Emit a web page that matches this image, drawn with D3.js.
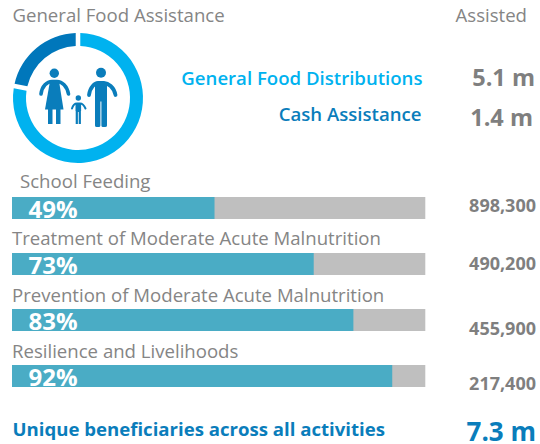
<!DOCTYPE html>
<html><head><meta charset="utf-8">
<script src="https://cdn.jsdelivr.net/npm/d3@7/dist/d3.min.js"></script>
<style>html,body{margin:0;padding:0;background:#fff}svg{display:block}text{font-family:"Open Sans",sans-serif}</style>
</head><body><svg id="c" width="540" height="444"></svg>
<script>
const title = "General Food Assistance";
const assistedLabel = "Assisted";
const donutCategories = ["General Food Distributions", "Cash Assistance"];
const donutValues = [5.1, 1.4];
const donutLabels = ["5.1 m", "1.4 m"];
const donutColors = ["#00b2ef", "#0077bb"];
const activities = ["School Feeding", "Treatment of Moderate Acute Malnutrition", "Prevention of Moderate Acute Malnutrition", "Resilience and Livelihoods"];
const percents = [49, 73, 83, 92];
const barShares = [49, 73, 82.6, 92];
const assisted = ["898,300", "490,200", "455,900", "217,400"];
const totalLabel = "Unique beneficiaries across all activities";
const totalValue = "7.3 m";

const svg = d3.select("#c");
const grey = "#858585", dgrey = "#7f7f7f";
const txt = (x,y,s,size,fill,weight,anchor) => svg.append("text").attr("x",x).attr("y",y).text(s)
  .attr("font-size",size).attr("fill",fill).attr("font-weight",weight||400).attr("text-anchor",anchor||"start");

txt(12.5,22,title,18.6,grey);
txt(527,22,assistedLabel,18.6,grey,400,"end");

// donut
const donut = svg.append("g").attr("transform","translate(78,98)");
const pie = d3.pie().sort(null).padAngle(0.055)(donutValues);
const arc = d3.arc().innerRadius(52).outerRadius(65);
donut.selectAll("path").data(pie).join("path").attr("d",arc).attr("fill",(d,i)=>donutColors[i]);

// family pictogram
const icon = svg.append("g").attr("fill","#0a7dbb");
[[54.3,73.3,4.7],[78.3,98,2.7],[101,72.7,5]].forEach(h=>icon.append("circle").attr("cx",h[0]).attr("cy",h[1]).attr("r",h[2]));
const lines = [
 ["M41,94 C42,86 47,81.5 52,81.5 L57,81.5 C62,81.5 67,86 68.5,94",3.6],
 ["M72,108.5 C73,105 75,103.5 77,103.5 L80,103.5 C82,103.5 84,105 85.5,108.5",2],
 ["M89,95 C90,87 95,83 98,83 L104,83 C108,83 114,87 115.5,95",3.8]
];
lines.forEach(l=>icon.append("path").attr("d",l[0]).attr("fill","none").attr("stroke","#0a7dbb").attr("stroke-width",l[1]).attr("stroke-linecap","round"));
icon.append("path").attr("d","M50,81 L59,81 L63.5,109.5 L45,109.5 Z");
icon.append("path").attr("d","M48,109 h4.5 v15 h-4.5 Z M56,109 h4.5 v15 h-4.5 Z");
icon.append("path").attr("d","M75.5,103 h5.6 v8 h-0.2 v13 h-2.2 v-12 h-0.8 v12 h-2.2 v-13 h-0.2 Z");
icon.append("path").attr("d","M95,82 h12 v19 h0 v24.5 q0,1.5 -2,1.5 h-2 q-1.6,0 -1.6,-1.5 v-24 h-1 v24 q0,1.5 -1.6,1.5 h-2 q-1.8,0 -1.8,-1.5 Z");

txt(422.5,85,donutCategories[0],18.6,donutColors[0],600,"end");
txt(421.5,120.5,donutCategories[1],18.6,"#0a7dbb",600,"end");
txt(535,86,donutLabels[0],23.5,dgrey,700,"end");
txt(533,126,donutLabels[1],23.5,dgrey,700,"end");

// bars
const x = d3.scaleLinear().domain([0,100]).range([12,425.3]);
const y = d3.scalePoint().domain(activities).range([197,365]);
const labelX = [20,12,12,12], labelY=[188,245,302,358], valY=[212,270,335,390];
const g = svg.append("g");
g.selectAll("rect.bg").data(activities).join("rect").attr("class","bg")
  .attr("x",x(0)).attr("y",d=>y(d)).attr("width",x(100)-x(0)).attr("height",22).attr("fill","#bfbfbf");
g.selectAll("rect.fg").data(barShares).join("rect").attr("class","fg")
  .attr("x",x(0)).attr("y",(d,i)=>y(activities[i])).attr("width",d=>x(d)-x(0)).attr("height",22).attr("fill","#4aacc5");
activities.forEach((a,i)=>{
  txt(labelX[i],labelY[i],a,18.6,grey);
  txt(28.5,y(a)+21,percents[i]+"%",24,"#ffffff",700);
  txt(536,valY[i],assisted[i],18,dgrey,700,"end");
});

txt(12.5,436,totalLabel,18.6,"#0a7dbb",700);
txt(536,441,totalValue,26,"#0a7dbb",700,"end");
</script></body></html>
